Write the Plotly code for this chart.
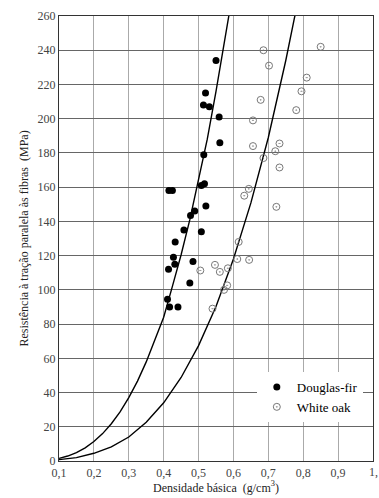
import plotly.graph_objects as go

# Douglas-fir observations
df_x = [0.55, 0.52, 0.514, 0.531, 0.559, 0.561, 0.515, 0.508, 0.517, 0.415, 0.425,
        0.521, 0.489, 0.477, 0.458, 0.508, 0.433, 0.428, 0.432, 0.414, 0.484,
        0.475, 0.411, 0.417, 0.441]
df_y = [234, 215, 208, 207, 201, 186, 179, 161, 162, 158, 158,
        149, 146, 143.5, 135, 134, 128, 119, 115, 112, 116.5,
        104, 94.5, 90, 90]

# White oak observations
wo_x = [0.686, 0.85, 0.702, 0.81, 0.795, 0.678, 0.78, 0.656, 0.732, 0.656, 0.72,
        0.686, 0.732, 0.644, 0.631, 0.723, 0.615, 0.611, 0.645, 0.547, 0.584,
        0.561, 0.505, 0.582, 0.573, 0.54]
wo_y = [240, 242, 231, 224, 216, 211, 205, 199, 185.5, 184, 181,
        177, 171.5, 159, 155, 148.5, 128, 118, 117.5, 114.6, 112.6,
        110.5, 111.3, 102.6, 100, 89]

# Fitted curves
df_cx = [0.1, 0.125, 0.15, 0.175, 0.2, 0.225, 0.25, 0.275, 0.3, 0.325, 0.35,
         0.375, 0.4, 0.425, 0.45, 0.475, 0.5, 0.525, 0.55, 0.575, 0.59]
df_cy = [1.5, 2.9, 4.9, 7.7, 11.4, 16, 21.8, 28.7, 37, 46.7, 57.9,
         70.8, 84, 102, 120.5, 141, 164, 188, 216, 245.5, 264]
wo_cx = [0.1, 0.15, 0.2, 0.25, 0.3, 0.35, 0.4, 0.45, 0.5, 0.55, 0.6,
         0.65, 0.7, 0.725, 0.75, 0.775, 0.785]
wo_cy = [0.8, 2, 4.5, 8.2, 14, 22.6, 34, 48.8, 67.4, 90.3, 118,
         150.8, 189, 211, 234, 259, 268]

x_ticks = [0.1, 0.2, 0.3, 0.4, 0.5, 0.6, 0.7, 0.8, 0.9]
x_labels = ["0,1", "0,2", "0,3", "0,4", "0,5", "0,6", "0,7", "0,8", "0,9"]
x_last_label = "1,"
y_ticks = list(range(0, 261, 20))

serif = "Liberation Serif"
tickfont = dict(family=serif, size=12, color="#444")

fig = go.Figure()
fig.add_trace(go.Scatter(x=df_cx, y=df_cy, mode="lines", line=dict(color="black", width=1.4),
                         showlegend=False, hoverinfo="skip"))
fig.add_trace(go.Scatter(x=wo_cx, y=wo_cy, mode="lines", line=dict(color="black", width=1.4),
                         showlegend=False, hoverinfo="skip"))
fig.add_trace(go.Scatter(x=df_x, y=df_y, mode="markers", name="Douglas-fir",
                         marker=dict(symbol="circle", size=7, color="black")))
fig.add_trace(go.Scatter(x=wo_x, y=wo_y, mode="markers", name="White oak",
                         marker=dict(symbol="circle-dot", size=7, color="rgba(255,255,255,0)",
                                     line=dict(color="#777", width=1))))

fig.add_annotation(x=1.0, y=0, xref="x", yref="paper", text=x_last_label, showarrow=False,
                   xanchor="center", yanchor="top", yshift=-2, font=tickfont)

fig.update_layout(
    width=379, height=498,
    margin=dict(l=59, r=6, t=16, b=37),
    paper_bgcolor="white", plot_bgcolor="white",
    font=dict(family=serif, size=12, color="#333"),
    legend=dict(x=0.63, y=0.2, xanchor="left", yanchor="top", bgcolor="white",
                font=dict(family=serif, size=13, color="black"), itemwidth=30,
                tracegroupgap=0),
    xaxis=dict(range=[0.1, 1.0], tickvals=x_ticks, ticktext=x_labels, tickfont=tickfont,
               showgrid=True, gridcolor="#aaa", gridwidth=1.2,
               showline=True, linecolor="#333", linewidth=1.2, mirror=True,
               ticks="", zeroline=False,
               title=dict(text="Densidade básica  (g/cm<sup>3</sup>)", font=dict(family=serif, size=12, color="#222"),
                          standoff=2)),
    yaxis=dict(range=[0, 260], tickvals=y_ticks, tickfont=tickfont,
               showgrid=True, gridcolor="#666", gridwidth=1,
               showline=True, linecolor="#333", linewidth=1.2, mirror=True,
               ticks="", zeroline=False,
               title=dict(text="Resistência à tração paralela às fibras  (MPa)",
                          font=dict(family=serif, size=12, color="#222"), standoff=6)),
)

fig.write_html("out.html")
